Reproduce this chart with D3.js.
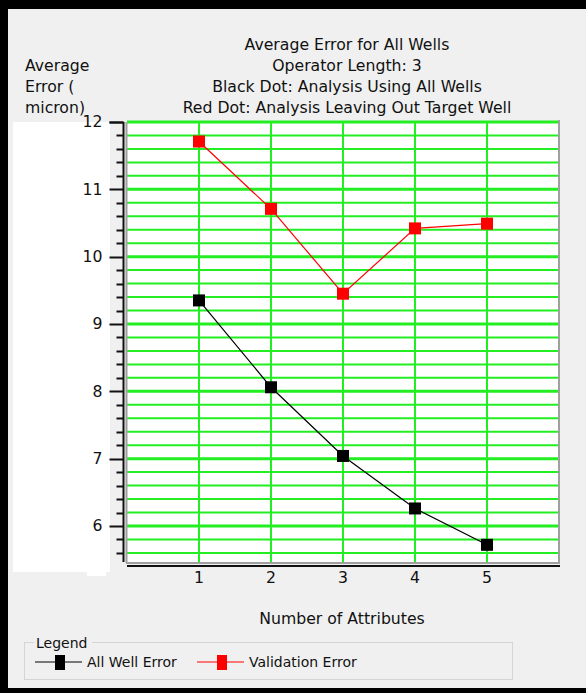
<html lang="en">
<head>
<style>
body { margin:0; background:#f0f0f0; }
svg text { font-family: "DejaVu Sans", sans-serif; fill:#111; }
</style>
</head>
<body>
</body>
<script type='text/javascript' src='https://d3js.org/d3.v7.min.js'></script>
<script>
var width = 586, height = 693;

// chart data
const attributes = [1, 2, 3, 4, 5];
const allWellError = [9.35, 8.06, 7.04, 6.26, 5.72];
const validationError = [11.71, 10.71, 9.45, 10.42, 10.49];
const yTicks = [6, 7, 8, 9, 10, 11, 12];
const titleLines = ['Average Error for All Wells', 'Operator Length: 3',
  'Black Dot: Analysis Using All Wells', 'Red Dot: Analysis Leaving Out Target Well'];
const yLabelLines = ['Average', 'Error (', 'micron)'];
const series = [
  {name: 'All Well Error', values: allWellError, color: '#000000'},
  {name: 'Validation Error', values: validationError, color: '#ff0000'}
];

var svg = d3.select('body').append('svg').attr('width', width).attr('height', height);
var fs = '15.7px', fsLeg = '14px';

// window frame
svg.append('rect').attr('x', 0).attr('y', 0).attr('width', width).attr('height', 9).attr('fill', '#000');
svg.append('rect').attr('x', 0).attr('y', 0).attr('width', 8).attr('height', height).attr('fill', '#000');
svg.append('rect').attr('x', 0).attr('y', 688).attr('width', width).attr('height', 5).attr('fill', '#000');

// plot area
var pL = 127, pR = 559, pT = 122, pB = 563;
var x = d3.scaleLinear().domain([0, 6]).range([pL, pR]);
var y = d3.scaleLinear().domain([5.45, 12]).range([pB, pT]);

// white panel behind y labels
svg.append('rect').attr('x', 13).attr('y', 122).attr('width', 97).attr('height', 450).attr('fill', '#fff');
svg.append('rect').attr('x', 87).attr('y', 560).attr('width', 19).attr('height', 16).attr('fill', '#fff');

svg.append('rect').attr('x', pL).attr('y', pT).attr('width', pR - pL).attr('height', pB - pT).attr('fill', '#fff');

// grid
var minor = d3.range(56, 121, 2).map(function(d) { return d / 10; });
var isMajor = function(d) { return Math.abs(d - Math.round(d)) < 1e-6; };
svg.append('g').selectAll('line').data(minor).join('line')
  .attr('x1', pL).attr('x2', pR)
  .attr('y1', function(d) { return y(d); }).attr('y2', function(d) { return y(d); })
  .attr('stroke', '#22ee22')
  .attr('stroke-width', function(d) { return isMajor(d) ? 3 : 2; });
svg.append('g').selectAll('line').data(attributes).join('line')
  .attr('x1', function(d) { return x(d); }).attr('x2', function(d) { return x(d); })
  .attr('y1', pT).attr('y2', pB)
  .attr('stroke', '#22ee22').attr('stroke-width', 2);

// plot border
svg.append('line').attr('x1', pL - 0.5).attr('x2', pL - 0.5).attr('y1', pT).attr('y2', pB).attr('stroke', '#a0a0a0').attr('stroke-width', 2);
svg.append('line').attr('x1', pR).attr('x2', pR).attr('y1', pT - 2).attr('y2', pB + 1).attr('stroke', '#a0a0a0').attr('stroke-width', 2);
svg.append('line').attr('x1', pL - 1).attr('x2', pR + 1).attr('y1', pB).attr('y2', pB).attr('stroke', '#a0a0a0').attr('stroke-width', 2);

// y axis
var ya = svg.append('g').attr('transform', 'translate(123.5,0)');
ya.append('line').attr('y1', pT).attr('y2', 562).attr('stroke', '#111').attr('stroke-width', 2);
ya.selectAll('line.tk').data(minor).join('line').attr('class', 'tk')
  .attr('x1', function(d) { return isMajor(d) ? -14 : -7; })
  .attr('x2', 0)
  .attr('y1', function(d) { return Math.round(y(d)) + 0.5; }).attr('y2', function(d) { return Math.round(y(d)) + 0.5; })
  .attr('stroke', '#111').attr('stroke-width', 2);
ya.append('line').attr('x1', -14).attr('x2', 0).attr('y1', pT + 0.5).attr('y2', pT + 0.5)
  .attr('stroke', '#111').attr('stroke-width', 2);
ya.selectAll('text').data(yTicks).join('text')
  .attr('x', -21).attr('y', function(d) { return y(d); }).attr('dy', '0.35em')
  .attr('text-anchor', 'end').style('font-size', fs).text(function(d) { return d; });

// x axis
svg.append('line').attr('x1', pL).attr('x2', pR + 1).attr('y1', 566).attr('y2', 566).attr('stroke', '#111').attr('stroke-width', 2);
svg.append('g').selectAll('text').data(attributes).join('text')
  .attr('x', function(d) { return x(d); }).attr('y', 578).attr('dy', '0.35em')
  .attr('text-anchor', 'middle').style('font-size', fs).text(function(d) { return d; });

// series
var line = d3.line().x(function(d, i) { return x(attributes[i]); }).y(function(d) { return y(d); });
series.forEach(function(s) {
  svg.append('path').datum(s.values).attr('d', line)
    .attr('fill', 'none').attr('stroke', s.color).attr('stroke-width', 1.2);
  svg.append('g').selectAll('rect').data(s.values).join('rect')
    .attr('x', function(d, i) { return x(attributes[i]) - 6; })
    .attr('y', function(d) { return y(d) - 6; })
    .attr('width', 12).attr('height', 12).attr('fill', s.color);
});

// titles
svg.append('g').selectAll('text').data(titleLines).join('text')
  .attr('x', 347).attr('y', function(d, i) { return 45 + i * 21; }).attr('dy', '0.35em')
  .attr('text-anchor', 'middle').style('font-size', fs).text(function(d) { return d; });
svg.append('g').selectAll('text').data(yLabelLines).join('text')
  .attr('x', 25).attr('y', function(d, i) { return 66 + i * 21; }).attr('dy', '0.35em')
  .style('font-size', fs).text(function(d) { return d; });
svg.append('text').attr('x', 342).attr('y', 619).attr('dy', '0.35em')
  .attr('text-anchor', 'middle').style('font-size', fs).text('Number of Attributes');

// legend
svg.append('rect').attr('x', 24.5).attr('y', 642.5).attr('width', 488).attr('height', 37)
  .attr('fill', 'none').attr('stroke', '#d5d5d5');
svg.append('rect').attr('x', 34).attr('y', 636).attr('width', 58).attr('height', 12).attr('fill', '#f0f0f0');
svg.append('text').attr('x', 36).attr('y', 643).attr('dy', '0.35em').style('font-size', fsLeg).text('Legend');
var legX = [35, 197];
series.forEach(function(s, i) {
  var g = svg.append('g').attr('transform', 'translate(' + legX[i] + ',662)');
  g.append('line').attr('x1', 0).attr('x2', 47).attr('y1', 0).attr('y2', 0).attr('stroke', s.color).attr('stroke-width', 1.2);
  g.append('rect').attr('x', 20).attr('y', -7).attr('width', 10).attr('height', 15).attr('fill', s.color);
  g.append('text').attr('x', 52).attr('y', 0).attr('dy', '0.35em').style('font-size', fsLeg).text(s.name);
});
</script>
</html>
